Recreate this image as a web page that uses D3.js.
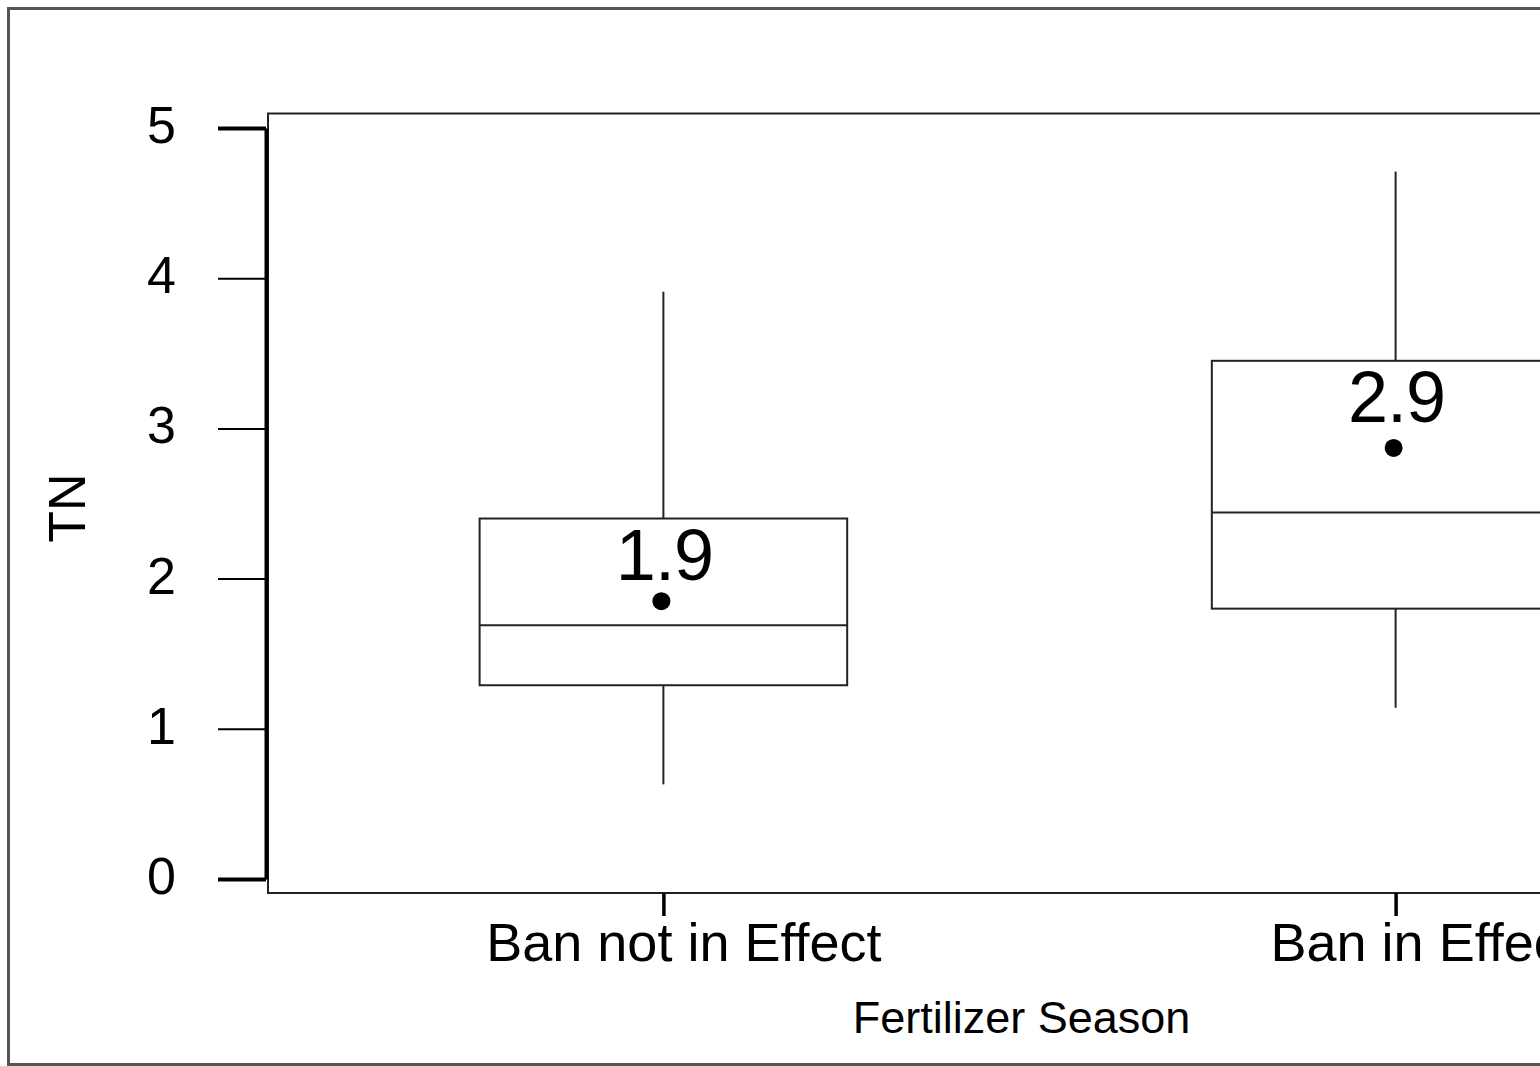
<!DOCTYPE html>
<html>
<head>
<meta charset="utf-8">
<script src="https://cdn.jsdelivr.net/npm/d3@7"></script>
<style>
  body { margin: 0; overflow: hidden; background: #fff; }
  text { font-family: "Liberation Sans", Arial, sans-serif; fill: #000; }
</style>
</head>
<body>
<script>
// data
var categories = ["Ban not in Effect", "Ban in Effect"];
var whiskerLow = [0.63, 1.14];
var q1 = [1.29, 1.80];
var median = [1.69, 2.44];
var q3 = [2.40, 3.45];
var whiskerHigh = [3.91, 4.71];
var means = [1.85, 2.87];
var meanLabels = ["1.9", "2.9"];
var yTicks = [0, 1, 2, 3, 4, 5];

var boxes = categories.map(function (c, i) {
  return { cat: c, lo: whiskerLow[i], q1: q1[i], med: median[i], q3: q3[i],
           hi: whiskerHigh[i], mean: means[i], label: meanLabels[i] };
});

var width = 1860, height = 1066;
var frame = { left: 268, top: 113.5, right: 1791, bottom: 893 };

var svg = d3.select("body").append("svg")
  .attr("width", width)
  .attr("height", height);

// outer border
svg.append("rect")
  .attr("x", 8.5).attr("y", 8.5)
  .attr("width", width - 30).attr("height", 1056)
  .attr("fill", "none")
  .attr("stroke", "#555")
  .attr("stroke-width", 3);

var y = d3.scaleLinear().domain([0, 5]).range([879, 128]);
var x = d3.scalePoint().domain(categories)
  .range([frame.left, frame.right]).padding(0.54);
var boxW = x.step() * 0.502;

// plot frame
svg.append("rect")
  .attr("x", frame.left).attr("y", frame.top)
  .attr("width", frame.right - frame.left)
  .attr("height", frame.bottom - frame.top)
  .attr("fill", "none")
  .attr("stroke", "#222")
  .attr("stroke-width", 2);

// y axis
var yAxis = svg.append("g")
  .attr("transform", "translate(266,0)")
  .call(d3.axisLeft(y).tickValues(yTicks).tickSize(48).tickSizeOuter(0).tickPadding(42)
    .tickFormat(d3.format("d")));
yAxis.select(".domain").attr("stroke", "#000").attr("stroke-width", 4);
yAxis.selectAll(".tick line").attr("stroke", "#000")
  .attr("stroke-width", function (d) { return (d === 0 || d === 5) ? 4 : 2; });
yAxis.selectAll(".tick text")
  .style("font-size", "52px")
  .style("font-family", "Liberation Sans, Arial, sans-serif")
  .attr("dy", "0.28em");

// x axis
var xAxis = svg.append("g")
  .attr("transform", "translate(0," + frame.bottom + ")")
  .call(d3.axisBottom(x).tickSize(23).tickSizeOuter(0).tickPadding(6));
xAxis.select(".domain").remove();
xAxis.selectAll(".tick line").attr("stroke", "#000").attr("stroke-width", 3.5);
xAxis.selectAll(".tick text")
  .style("font-size", "54px")
  .style("font-family", "Liberation Sans, Arial, sans-serif")
  .attr("dx", function (d, i) { return i === 0 ? 20 : 27; })
  .attr("dy", "0.72em");

// axis titles
svg.append("text")
  .attr("x", (frame.left + frame.right) / 2 - 8)
  .attr("y", 1033)
  .attr("text-anchor", "middle")
  .style("font-size", "45px")
  .text("Fertilizer Season");

svg.append("text")
  .attr("transform", "translate(85,508) rotate(-90)")
  .attr("text-anchor", "middle")
  .style("font-size", "52px")
  .text("TN");

// boxes
var g = svg.append("g").selectAll("g")
  .data(boxes)
  .enter()
  .append("g");

g.append("line")
  .attr("x1", function (d) { return x(d.cat); })
  .attr("x2", function (d) { return x(d.cat); })
  .attr("y1", function (d) { return y(d.hi); })
  .attr("y2", function (d) { return y(d.q3); })
  .attr("stroke", "#222").attr("stroke-width", 2);

g.append("line")
  .attr("x1", function (d) { return x(d.cat); })
  .attr("x2", function (d) { return x(d.cat); })
  .attr("y1", function (d) { return y(d.q1); })
  .attr("y2", function (d) { return y(d.lo); })
  .attr("stroke", "#222").attr("stroke-width", 2);

g.append("rect")
  .attr("x", function (d) { return x(d.cat) - boxW / 2; })
  .attr("y", function (d) { return y(d.q3); })
  .attr("width", boxW)
  .attr("height", function (d) { return y(d.q1) - y(d.q3); })
  .attr("fill", "none")
  .attr("stroke", "#222").attr("stroke-width", 2);

g.append("line")
  .attr("x1", function (d) { return x(d.cat) - boxW / 2; })
  .attr("x2", function (d) { return x(d.cat) + boxW / 2; })
  .attr("y1", function (d) { return y(d.med); })
  .attr("y2", function (d) { return y(d.med); })
  .attr("stroke", "#222").attr("stroke-width", 2);

g.append("circle")
  .attr("cx", function (d) { return x(d.cat) - 2; })
  .attr("cy", function (d) { return y(d.mean); })
  .attr("r", 9)
  .attr("fill", "#000");

g.append("text")
  .attr("x", function (d) { return x(d.cat) + 1; })
  .attr("y", function (d, i) { return y(d.mean) - (i === 0 ? 21 : 26); })
  .attr("text-anchor", "middle")
  .style("font-size", "72px")
  .style("letter-spacing", "-1px")
  .text(function (d) { return d.label; });
</script>
</body>
</html>
